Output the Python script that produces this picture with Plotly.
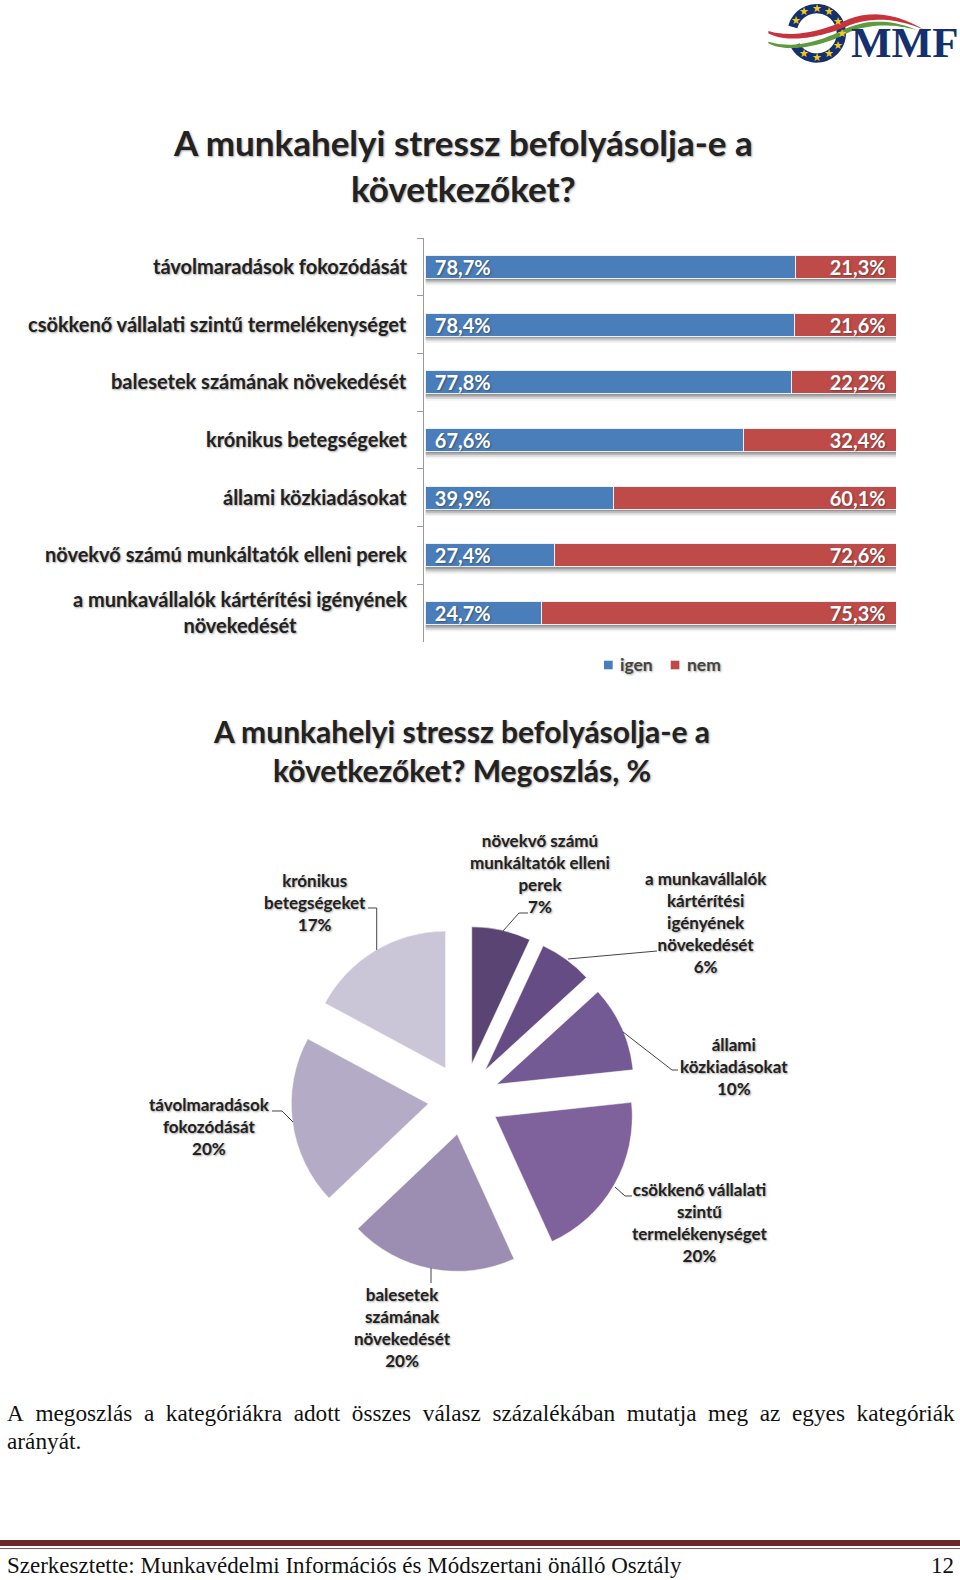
import numpy as np
import plotly.graph_objects as go

W, H = 960, 1580

# ---------- data ----------
bar_categories = ["távolmaradások fokozódását", "csökkenő vállalati szintű termelékenységet",
                  "balesetek számának növekedését", "krónikus betegségeket", "állami közkiadásokat",
                  "növekvő számú munkáltatók elleni perek",
                  "a munkavállalók kártérítési igényének<br>növekedését"]
series_names = ["igen", "nem"]
series_colors = ["#4A7EBB", "#BE4B48"]
igen = [78.7, 78.4, 77.8, 67.6, 39.9, 27.4, 24.7]
nem = [21.3, 21.6, 22.2, 32.4, 60.1, 72.6, 75.3]
pie_labels = ["növekvő számú munkáltatók elleni perek", "a munkavállalók kártérítési igényének növekedését",
              "állami közkiadásokat", "csökkenő vállalati szintű termelékenységet",
              "balesetek számának növekedését", "távolmaradások fokozódását", "krónikus betegségeket"]
pie_values = [6.95, 6.26, 10.11, 19.87, 19.72, 19.95, 17.14]
pie_colors = ["#5A4474", "#664C84", "#735A94", "#7F619B", "#9C8DB3", "#B4ABC6", "#CAC6D8"]
pie_texts = ["növekvő számú<br>munkáltatók elleni<br>perek<br>7%",
             "a munkavállalók<br>kártérítési<br>igényének<br>növekedését<br>6%",
             "állami<br>közkiadásokat<br>10%",
             "csökkenő vállalati<br>szintű<br>termelékenységet<br>20%",
             "balesetek<br>számának<br>növekedését<br>20%",
             "távolmaradások<br>fokozódását<br>20%",
             "krónikus<br>betegségeket<br>17%"]
pie_text_pos = [(540, 874), (706, 922), (734, 1066), (700, 1222), (402, 1327), (209, 1126), (315, 902)]
leaders = [[(503, 931), (519, 913), (528, 913)],
           [(568, 959), (657, 951)],
           [(623, 1032), (672, 1070), (678, 1070)],
           [(615, 1187), (625, 1196), (632, 1196)],
           [(431, 1268), (431, 1283)],
           [(293, 1122), (282, 1111), (272, 1111)],
           [(376.7, 950), (376.7, 908), (368, 908)]]
title_1 = "A munkahelyi stressz befolyásolja-e a<br>következőket?"
title_2 = "A munkahelyi stressz befolyásolja-e a<br>következőket? Megoszlás, %"
GAP = "\u2002"
body_1 = GAP.join("A megoszlás a kategóriákra adott összes válasz százalékában mutatja meg az egyes kategóriák".split(" "))
body_2 = "arányát."
footer = "Szerkesztette: Munkavédelmi Információs és Módszertani önálló Osztály"
page_no = "12"
stars = [(163, 35), (200, 25), (238, 35), (137, 62), (265, 65), (275, 100), (265, 135), (237, 162), (200, 172), (163, 162)]

# ---------- helpers ----------
SANS = "Lato, 'Open Sans', sans-serif"
SERIF = "'Liberation Serif', serif"
SHADOW = "1px 1px 2px rgba(90,90,90,0.55)"


def px(x):
    return x / W


def py(y):
    return 1 - y / H


def poly(points, close=True):
    s = "M " + " L ".join(f"{px(x):.5f},{py(y):.5f}" for x, y in points)
    return s + (" Z" if close else "")


def text(x, y, t, size, color="#222222", family=SANS, bold=True, xanchor="center", yanchor="middle",
         align="center", shadow=None, **kw):
    f = dict(size=size, color=color, family=family, weight="bold" if bold else "normal")
    if shadow:
        f["shadow"] = shadow
    return dict(x=px(x), y=py(y), xref="paper", yref="paper", text=t, showarrow=False, font=f,
                xanchor=xanchor, yanchor=yanchor, align=align, **kw)


def pct(v):
    return f"{v:.1f}".replace(".", ",") + "%"


fig = go.Figure()
for name, vals, col, anchor in [(series_names[0], igen, series_colors[0], "start"),
                                (series_names[1], nem, series_colors[1], "end")]:
    fig.add_trace(go.Bar(
        name=name, y=bar_categories, x=vals, orientation="h",
        marker=dict(color=col, line=dict(color="#EAF1F8", width=1)),
        text=[("\u00a0\u200a" + pct(v) if anchor == "start" else pct(v) + "\u00a0\u2009") for v in vals],
        textposition="inside", insidetextanchor=anchor, textangle=0, constraintext="none",
        insidetextfont=dict(color="white", size=20, family=SANS, weight="bold", shadow="1px 1px 2px rgba(40,40,40,0.5)"),
        hoverinfo="skip", showlegend=False))

fig.add_trace(go.Pie(
    labels=pie_labels, values=pie_values, sort=False, direction="clockwise", rotation=0,
    pull=0.262, marker=dict(colors=pie_colors, line=dict(color="white", width=0.5)),
    textinfo="none", hoverinfo="skip", showlegend=False,
    domain=dict(x=[px(291), px(637)], y=[py(1272), py(926)])))

shapes = []
# drop shadows under the bars, in axis units
for i in range(len(bar_categories)):
    for off, op in [(0.0, 0.45), (0.03, 0.3), (0.06, 0.18), (0.09, 0.08)]:
        shapes.append(dict(type="rect", xref="x", yref="y", x0=0, x1=100, y0=i + 0.19, y1=i + 0.23 + off,
                           fillcolor="#6b6b6b", opacity=op, line_width=0, layer="below"))
# pie leader lines
for pts in leaders:
    shapes.append(dict(type="path", xref="paper", yref="paper", path=poly(pts, False),
                       line=dict(color="#444444", width=1)))
# footer rules
shapes.append(dict(type="rect", xref="paper", yref="paper", x0=px(0), x1=1, y0=py(1546), y1=py(1540),
                   fillcolor="#6A2A2C", line_width=0))
shapes.append(dict(type="rect", xref="paper", yref="paper", x0=px(0), x1=1, y0=py(1549), y1=py(1548),
                   fillcolor="#8A5A5C", line_width=0))
# legend keys
for col, x0 in zip(series_colors, [604, 670.7]):
    shapes.append(dict(type="rect", xref="paper", yref="paper", x0=px(x0), x1=px(x0 + 8.7), y0=py(669.3), y1=py(660.7),
                       fillcolor=col, line_width=0))


# logo, drawn in zoom coordinates (1/3 px, origin 750,0)
def lx(p):
    return (750 + p[0] / 3, p[1] / 3)


theta = np.radians(np.linspace(-150, 165, 60))
outer = [lx((200 + 88 * np.cos(t), 100 - 88 * np.sin(t))) for t in theta]
inner = [lx((200 + 60 * np.cos(t), 100 - 60 * np.sin(t))) for t in theta[::-1]]
shapes.append(dict(type="path", xref="paper", yref="paper", path=poly(outer + inner),
                   fillcolor="#14306E", line_width=0))


def bez(p0, p1, p2, p3, n=24):
    ts = np.linspace(0, 1, n)
    return [((1 - t) ** 3 * p0[0] + 3 * (1 - t) ** 2 * t * p1[0] + 3 * (1 - t) * t ** 2 * p2[0] + t ** 3 * p3[0],
             (1 - t) ** 3 * p0[1] + 3 * (1 - t) ** 2 * t * p1[1] + 3 * (1 - t) * t ** 2 * p2[1] + t ** 3 * p3[1]) for t in ts]


red = (bez((55, 93), (120, 112), (200, 100), (290, 60)) + bez((290, 60), (360, 30), (440, 40), (520, 88))
       + bez((520, 88), (440, 55), (370, 50), (300, 75)) + bez((300, 75), (210, 115), (110, 130), (55, 100)))
green = (bez((55, 125), (130, 148), (210, 125), (290, 85)) + bez((290, 85), (360, 55), (430, 60), (500, 90))
         + bez((500, 90), (430, 72), (370, 70), (300, 95)) + bez((300, 95), (220, 140), (110, 160), (55, 130)))
shapes.append(dict(type="path", xref="paper", yref="paper", path=poly([lx(p) for p in red]),
                   fillcolor="#C8323C", line_width=0))
shapes.append(dict(type="path", xref="paper", yref="paper", path=poly([lx(p) for p in green]),
                   fillcolor="#5E9B3C", line_width=0))

ann = []
ann.append(text(463, 165, title_1, 35, shadow=SHADOW))
ann.append(text(461, 750.5, title_2, 30, shadow=SHADOW))
for c in bar_categories:
    ann.append(dict(x=px(409), xref="paper", y=c, yref="y", text=c, showarrow=False, xanchor="right", align="center",
                    yshift=1, font=dict(size=20, color="#222222", family=SANS, weight="bold", shadow=SHADOW)))
for t, (x, y) in zip(pie_texts, pie_text_pos):
    ann.append(text(x, y, t, 17, shadow=SHADOW))
for name, x in zip(series_names, [618, 685]):
    ann.append(text(x, 664, name, 17.5, color="#444444", xanchor="left", shadow=SHADOW))
ann.append(text(5, 1413, body_1, 23.25, color="#111111", family=SERIF, bold=False, xanchor="left"))
ann.append(text(5, 1441, body_2, 23.25, color="#111111", family=SERIF, bold=False, xanchor="left"))
ann.append(text(5, 1565, footer, 23, color="#111111", family=SERIF, bold=False, xanchor="left"))
ann.append(text(956, 1565, page_no, 23, color="#111111", family=SERIF, bold=False, xanchor="right"))
ann.append(text(904, 42, "MMF", 43, color="#14306E", family=SERIF))
for s in stars:
    x, y = lx(s)
    ann.append(text(x, y, "★", 11, color="#F2C81E", family="'DejaVu Sans'", bold=False))

fig.update_layout(
    width=W, height=H, margin=dict(l=0, r=0, t=0, b=0), paper_bgcolor="white", plot_bgcolor="white",
    barmode="stack", bargap=0.6, shapes=shapes, annotations=ann, showlegend=False,
    xaxis=dict(domain=[px(423.6), px(896)], range=[-0.45, 100], visible=False, fixedrange=True),
    yaxis=dict(domain=[py(642), py(238)], type="category", categoryorder="array", categoryarray=bar_categories,
               autorange="reversed", showticklabels=False, showline=True, linecolor="#9A9A9A", linewidth=1,
               ticks="outside", ticklen=6, tickcolor="#9A9A9A", tickson="boundaries", showgrid=False,
               zeroline=False, fixedrange=True),
)

fig.write_html("out.html", config=dict(displayModeBar=False),
               post_script="document.body.style.margin='0';")
